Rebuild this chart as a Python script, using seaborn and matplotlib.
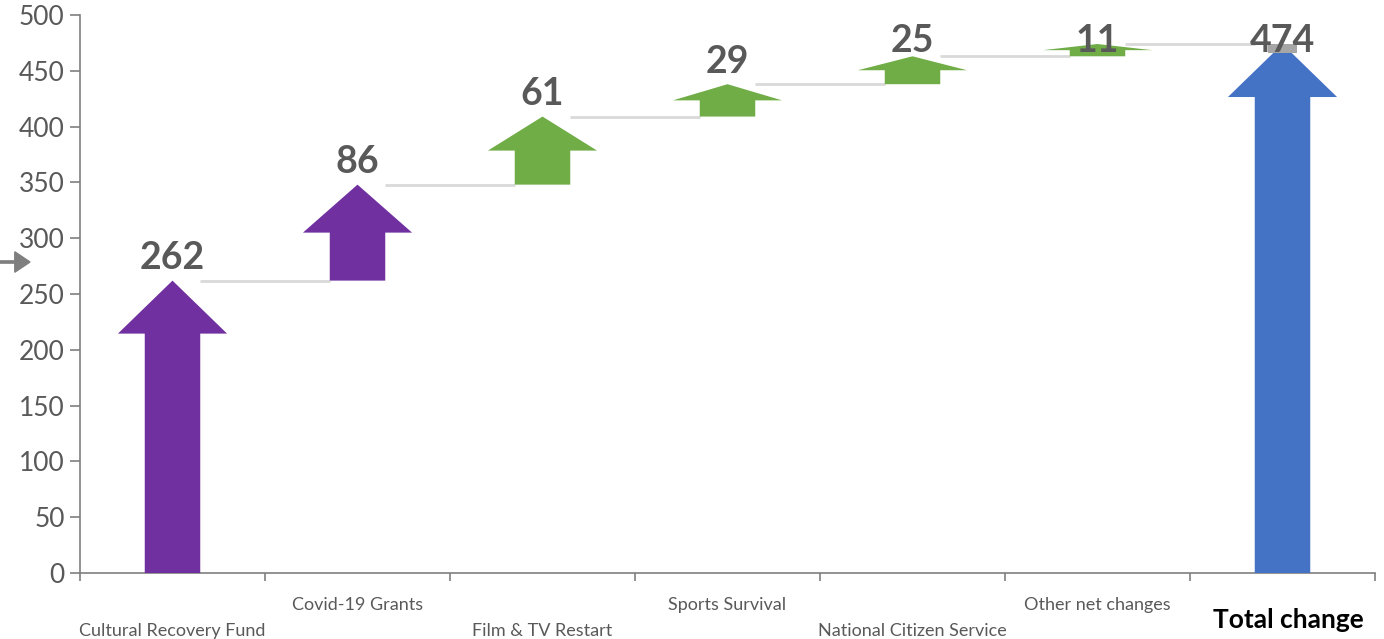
import matplotlib
matplotlib.use("Agg")
import matplotlib.pyplot as plt
from matplotlib.patches import Polygon, Rectangle
from matplotlib.transforms import blended_transform_factory
import seaborn as sns
import numpy as np

# Programme contributions to the change in spending (£ million)
categories = ["Cultural Recovery Fund", "Covid-19 Grants", "Film & TV Restart",
              "Sports Survival", "National Citizen Service", "Other net changes"]
changes = [262, 86, 61, 29, 25, 11]
total_label = "Total change"
total_value = 474
kinds = ["culture", "culture", "other", "other", "other", "other"]

palette = {"culture": "#7030A0", "other": "#70AD47", "total": "#4472C4"}

sns.set_theme(style="white")
plt.rcParams["font.family"] = ["Lato", "DejaVu Sans"]

fig = plt.figure(figsize=(13.84, 6.39), dpi=100)
ax = fig.add_axes([80 / 1384, 1 - 573 / 639, 1295 / 1384, 558 / 639])

n = len(categories) + 1
ax.set_xlim(-0.5, n - 0.5)
ax.set_ylim(0, 500)

shaft_w = 0.30
head_w = 0.59
head_max = 47.5


def arrow(ax, x, base, top, color):
    length = top - base
    hl = min(head_max, length / 2)
    neck = top - hl
    pts = [(x - shaft_w / 2, base), (x + shaft_w / 2, base), (x + shaft_w / 2, neck),
           (x + head_w / 2, neck), (x, top), (x - head_w / 2, neck),
           (x - shaft_w / 2, neck)]
    ax.add_patch(Polygon(pts, closed=True, facecolor=color, edgecolor="none", zorder=3))


tops = np.cumsum(changes)
bases = tops - np.array(changes)


def label_y(top):
    return min(top + 10, 467)


for i, (b, t, k, v) in enumerate(zip(bases, tops, kinds, changes)):
    arrow(ax, i, b, t, palette[k])
    ax.text(i, label_y(t), f"{v}", ha="center", va="baseline", fontsize=27,
            fontweight="bold", color="#595959", zorder=5)
    # connector to the next arrow
    ax.plot([i + shaft_w / 2, i + 1 - shaft_w / 2], [t, t], color="#d9d9d9",
            lw=2, zorder=1, solid_capstyle="butt")

ti = n - 1
arrow(ax, ti, 0, total_value, palette["total"])
ax.add_patch(Rectangle((ti - 0.08, total_value - 8), 0.16, 8, facecolor="#a6a6a6",
                       edgecolor="none", zorder=4))
ax.text(ti, label_y(total_value), f"{total_value}", ha="center", va="baseline",
        fontsize=27, fontweight="bold", color="#595959", zorder=5)

# axes styling
for s in ["top", "right"]:
    ax.spines[s].set_visible(False)
for s in ["left", "bottom"]:
    ax.spines[s].set_color("#7f7f7f")
    ax.spines[s].set_linewidth(1.2)

ax.set_yticks(np.arange(0, 501, 50))
ax.tick_params(axis="y", which="major", direction="out", length=7, width=1.2,
               color="#7f7f7f", labelsize=19, labelcolor="#595959", pad=4, left=True)

ax.set_xticks(np.arange(-0.5, n, 1.0))
ax.set_xticklabels([])
ax.tick_params(axis="x", which="major", direction="out", length=6, width=1.2,
               color="#7f7f7f", bottom=True)
ax.grid(False)

trans = blended_transform_factory(ax.transData, ax.transAxes)
for i, c in enumerate(categories):
    off = -32 if i % 2 == 1 else -58
    ax.annotate(c, xy=(i, 0), xycoords=trans, xytext=(0, off),
                textcoords="offset pixels", ha="center", va="center",
                fontsize=13, color="#595959", annotation_clip=False)
ax.annotate(total_label, xy=(ti, 0), xycoords=trans, xytext=(6, -47),
            textcoords="offset pixels", ha="center", va="center",
            fontsize=19, fontweight="bold", color="black", annotation_clip=False)

# pointer arrow on the left margin
fig.patches.append(matplotlib.patches.FancyArrow(
    0.0, 1 - 262 / 639, 30 / 1384, 0, width=0.0035, head_width=0.032,
    head_length=0.011, length_includes_head=True, color="#7f7f7f",
    transform=fig.transFigure, figure=fig))

fig.savefig("out.png", dpi=100)
